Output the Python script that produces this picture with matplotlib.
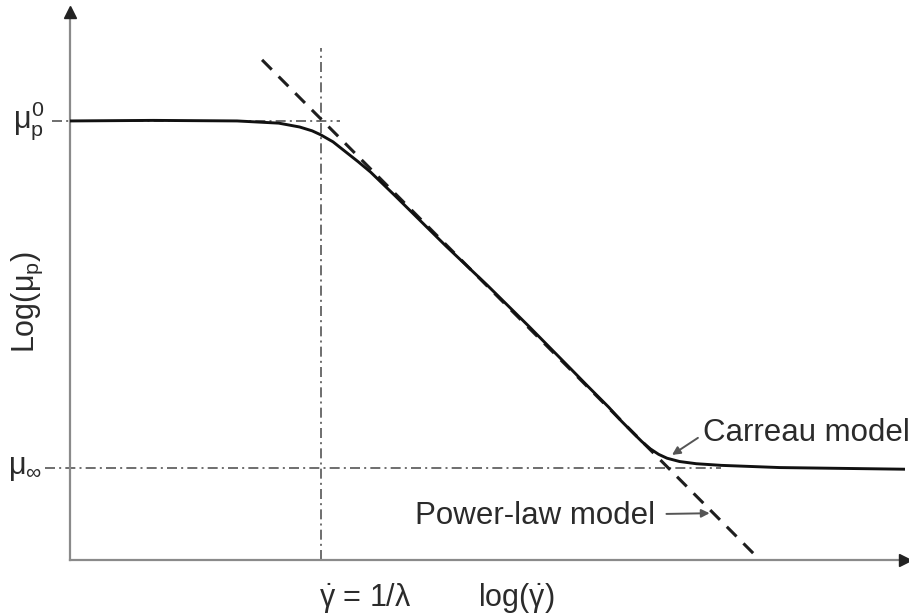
import matplotlib.pyplot as plt
import numpy as np

plt.rcParams['font.family'] = ['Liberation Sans', 'DejaVu Sans']
plt.rcParams['mathtext.fontset'] = 'custom'
plt.rcParams['mathtext.rm'] = 'Liberation Sans'
plt.rcParams['mathtext.it'] = 'Liberation Sans'
plt.rcParams['mathtext.bf'] = 'Liberation Sans:bold'

# Carreau viscosity curve, log(shear rate) vs log(viscosity), arbitrary units
log_gamma = [0.0, 1.0, 2.0, 2.5, 2.75, 2.9, 3.0, 3.15, 3.3, 3.45, 3.6, 3.9, 4.5, 5.0,
             5.5, 6.0, 6.2, 6.45, 6.6, 6.75, 6.85, 6.95, 7.05, 7.15, 7.3, 7.5, 7.8,
             8.5, 10.0]
log_mu = [7.98, 7.99, 7.98, 7.94, 7.87, 7.80, 7.73, 7.60, 7.42, 7.24, 7.05, 6.61, 5.71,
          4.99, 4.24, 3.47, 3.16, 2.78, 2.53, 2.30, 2.15, 2.02, 1.92, 1.85, 1.79, 1.75,
          1.72, 1.68, 1.65]

# power-law asymptote
power_gamma = [2.30, 8.23]
power_mu = [9.09, 0.05]

log_mu0 = 7.98       # zero-shear plateau
log_mu_inf = 1.67    # infinite-shear plateau
log_gamma_c = 3.0    # 1/lambda

ink = '#2b2b2b'
grey = '#555555'

fig = plt.figure(figsize=(9.09, 6.15), dpi=100)
ax = fig.add_axes([70 / 909, 55 / 615, 835 / 909, 548 / 615])
ax.set_xlim(0, 10)
ax.set_ylim(0, 9.96)

for s in ['top', 'right']:
    ax.spines[s].set_visible(False)
for s in ['left', 'bottom']:
    ax.spines[s].set_color('#8a8a8a')
    ax.spines[s].set_linewidth(1.6)
ax.set_xticks([])
ax.set_yticks([])

# axis arrow heads
ax.plot(0, 9.96, marker='^', ms=9, color='#222222', clip_on=False, zorder=5)
ax.plot(10, 0, marker='>', ms=9, color='#222222', clip_on=False, zorder=5)

dashdot = (0, (6, 2.5, 1.2, 2.5))
ax.plot([-0.22, 3.23], [log_mu0, log_mu0], color=grey, lw=1.2, ls=dashdot, clip_on=False)
ax.plot([-0.30, 7.8], [log_mu_inf, log_mu_inf], color=grey, lw=1.2, ls=dashdot, clip_on=False)
ax.plot([log_gamma_c, log_gamma_c], [0, 9.3], color=grey, lw=1.2, ls=dashdot)

ax.plot(power_gamma, power_mu, color='#1e1e1e', lw=2.2, ls=(0, (4.5, 3.2)), clip_on=False)
ax.plot(log_gamma, log_mu, color='#111111', lw=2.1, solid_capstyle='round', zorder=4)

fs = 22
ax.text(-0.30, log_mu0, r'$\mu_\mathrm{p}^0$', fontsize=fs, color=ink, ha='right', va='center')
ax.text(-0.34, log_mu_inf, r'$\mu_\infty$', fontsize=fs, color=ink, ha='right', va='center')
ax.text(-0.51, 4.69, r'Log($\mu_\mathrm{p}$)', fontsize=fs, color=ink, rotation=90,
        ha='center', va='center')
ax.text(3.53, -0.69, r'$\dot{\gamma}$ = 1/$\lambda$', fontsize=fs, color=ink,
        ha='center', va='center')
ax.text(5.35, -0.69, r'log($\dot{\gamma}$)', fontsize=fs, color=ink, ha='center', va='center')

arrow = dict(arrowstyle='-|>', color='#555555', lw=1.4, mutation_scale=12,
             shrinkA=0, shrinkB=0)
ax.text(7.58, 2.31, 'Carreau model', fontsize=22.5, color=ink, ha='left', va='center')
ax.annotate('', xy=(7.21, 1.91), xytext=(7.52, 2.22), arrowprops=arrow)
ax.annotate('Power-law model', xy=(7.66, 0.85), xytext=(7.01, 0.80), fontsize=22.5, color=ink,
            ha='right', va='center',
            arrowprops=dict(arrow, shrinkA=6))

fig.savefig('out.png', dpi=100)
